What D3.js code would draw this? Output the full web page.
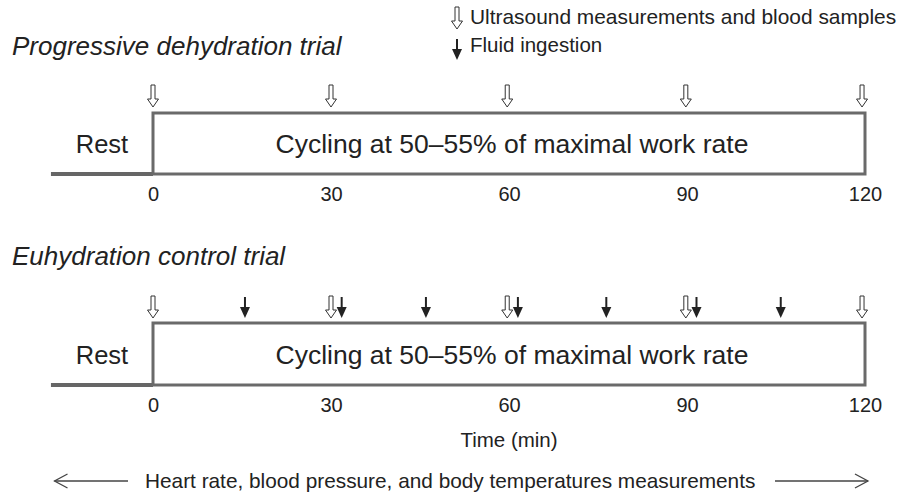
<!DOCTYPE html>
<html>
<head>
<meta charset="utf-8">
<script src="https://cdn.jsdelivr.net/npm/d3@7"></script>
<style>
  body { margin: 0; background: #fff; }
  text { font-family: "Liberation Sans", Arial, sans-serif; fill: #222; }
</style>
</head>
<body>
<div id="chart"></div>
<script>
// time ticks (min)
var tickValues = [0, 30, 60, 90, 120];
// ultrasound + blood samples (open arrows), min
var sampleTimes = [0, 30, 59.7, 89.8, 119.5];
// fluid ingestion (filled arrows), euhydration only, min
var ingestionTimes = [15.5, 31.8, 46, 61.5, 76.4, 91.6, 105.8];
var restStart = -17.2;
var trials = ["Progressive dehydration trial", "Euhydration control trial"];
var phaseLabels = ["Rest", "Cycling at 50\u201355% of maximal work rate"];
var legendLabels = ["Ultrasound measurements and blood samples", "Fluid ingestion"];
var timeLabel = "Time (min)";
var bottomLabel = "Heart rate, blood pressure, and body temperatures measurements";

var width = 911, height = 494;
var svg = d3.select("#chart").append("svg")
  .attr("width", width).attr("height", height);

var x = d3.scaleLinear().domain([0, 120]).range([153, 865]);

function openArrow(g, cx, top) {
  var p = d3.path();
  p.moveTo(cx - 2, top);
  p.lineTo(cx - 2, top + 14);
  p.lineTo(cx - 5.5, top + 14);
  p.lineTo(cx, top + 22);
  p.lineTo(cx + 5.5, top + 14);
  p.lineTo(cx + 2, top + 14);
  p.lineTo(cx + 2, top);
  p.closePath();
  g.append("path").attr("d", p.toString())
    .attr("fill", "#fff").attr("stroke", "#333").attr("stroke-width", 1);
}

function filledArrow(g, cx, top) {
  g.append("line").attr("x1", cx).attr("x2", cx)
    .attr("y1", top).attr("y2", top + 13)
    .attr("stroke", "#222").attr("stroke-width", 2);
  var p = d3.path();
  p.moveTo(cx - 5, top + 10);
  p.lineTo(cx, top + 21);
  p.lineTo(cx + 5, top + 10);
  p.closePath();
  g.append("path").attr("d", p.toString()).attr("fill", "#222");
}

// legend
var leg = svg.append("g");
openArrow(leg, 457, 7);
filledArrow(leg, 457, 39);
leg.append("text").attr("x", 470).attr("y", 24)
  .style("font-size", "20.9px").text(legendLabels[0]);
leg.append("text").attr("x", 470).attr("y", 52)
  .style("font-size", "20.5px").text(legendLabels[1]);

// panels
var panels = [
  { title: trials[0], titleY: 55, arrowTop: 85, top: 113, bottom: 174, ingest: [] },
  { title: trials[1], titleY: 265, arrowTop: 296, top: 323, bottom: 385, ingest: ingestionTimes }
];

panels.forEach(function(pn) {
  var g = svg.append("g");

  g.append("text").attr("x", 12).attr("y", pn.titleY)
    .style("font-size", "26px").style("font-style", "italic")
    .text(pn.title);

  // rest line
  g.append("line")
    .attr("x1", x(restStart)).attr("x2", x(0))
    .attr("y1", pn.bottom).attr("y2", pn.bottom)
    .attr("stroke", "#666").attr("stroke-width", 4);

  // cycling box
  g.append("rect")
    .attr("x", x(0)).attr("y", pn.top)
    .attr("width", x(120) - x(0)).attr("height", pn.bottom - pn.top)
    .attr("fill", "none").attr("stroke", "#6a6a6a").attr("stroke-width", 3);

  g.append("text").attr("x", (x(restStart) + x(0)) / 2).attr("y", pn.bottom - 21)
    .attr("text-anchor", "middle").style("font-size", "25.5px").text(phaseLabels[0]);
  g.append("text").attr("x", 512).attr("y", pn.bottom - 21)
    .attr("text-anchor", "middle").style("font-size", "26.5px").text(phaseLabels[1]);

  sampleTimes.forEach(function(t) { openArrow(g, x(t), pn.arrowTop); });
  pn.ingest.forEach(function(t) { filledArrow(g, x(t), pn.arrowTop + 1); });

  var ax = g.append("g").attr("transform", "translate(0," + pn.bottom + ")")
    .call(d3.axisBottom(x).tickValues(tickValues).tickSize(0).tickPadding(13));
  ax.select(".domain").remove();
  ax.selectAll("text").attr("fill", "#222")
    .style("font-size", "20px")
    .style("font-family", "'Liberation Sans', Arial, sans-serif");
});

// x axis title
svg.append("text").attr("x", x(60)).attr("y", 447)
  .attr("text-anchor", "middle").style("font-size", "20.5px").text(timeLabel);

// bottom measurement span
var yA = 481;
var xl = x(-16.6), xr = x(120.5);
svg.append("line").attr("x1", xl).attr("x2", 128)
  .attr("y1", yA).attr("y2", yA).attr("stroke", "#444").attr("stroke-width", 1.3);
svg.append("path")
  .attr("d", "M" + (xl + 13) + "," + (yA - 7) + "L" + xl + "," + yA + "L" + (xl + 13) + "," + (yA + 7))
  .attr("fill", "none").attr("stroke", "#444").attr("stroke-width", 1.3);
svg.append("line").attr("x1", 775).attr("x2", xr)
  .attr("y1", yA).attr("y2", yA).attr("stroke", "#444").attr("stroke-width", 1.3);
svg.append("path")
  .attr("d", "M" + (xr - 13) + "," + (yA - 7) + "L" + xr + "," + yA + "L" + (xr - 13) + "," + (yA + 7))
  .attr("fill", "none").attr("stroke", "#444").attr("stroke-width", 1.3);
svg.append("text").attr("x", 145).attr("y", 488)
  .style("font-size", "20.8px").text(bottomLabel);
</script>
</body>
</html>
